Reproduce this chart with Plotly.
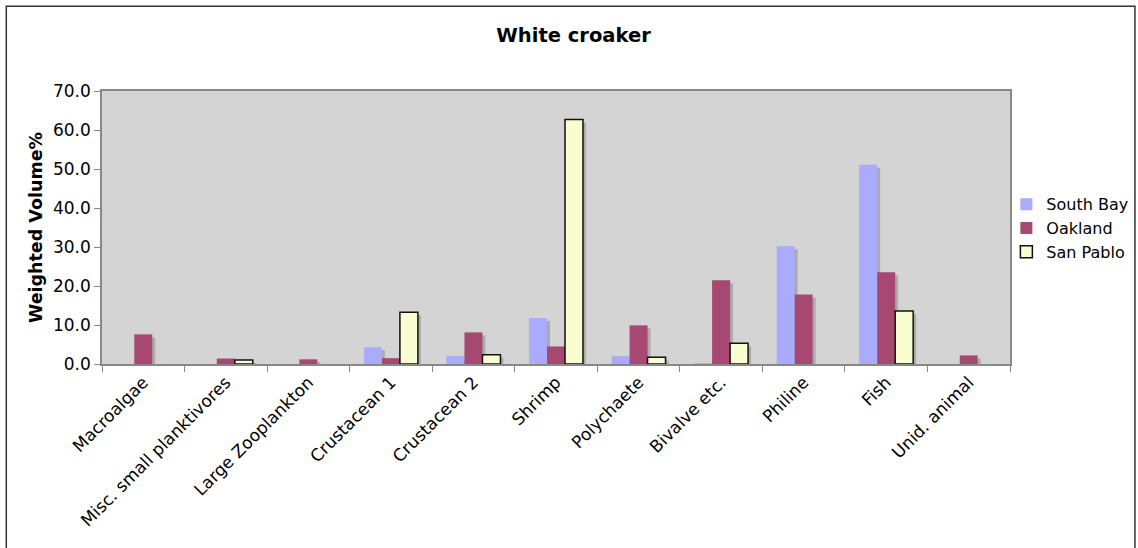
import plotly.graph_objects as go

categories = ["Macroalgae", "Misc. small planktivores", "Large Zooplankton",
              "Crustacean 1", "Crustacean 2", "Shrimp", "Polychaete",
              "Bivalve etc.", "Philine", "Fish", "Unid. animal"]
south_bay = [0, 0, 0, 4.3, 2.1, 11.8, 2.0, 0.1, 30.2, 51.1, 0]
oakland = [7.6, 1.4, 1.2, 1.5, 8.1, 4.5, 9.9, 21.5, 17.8, 23.5, 2.2]
san_pablo = [0, 1.0, 0, 13.3, 2.4, 62.7, 1.7, 5.3, 0, 13.6, 0]
y_ticks = [0, 10, 20, 30, 40, 50, 60, 70]

series = [
    ("South Bay", south_bay, "#AAAAFF", 0, "#AAAAFF"),
    ("Oakland", oakland, "#A64872", 0, "#A64872"),
    ("San Pablo", san_pablo, "#FAFCD2", 1.5, "#111111"),
]

BAR_W = 0.218
offsets = [-0.327, -0.109, 0.109]
SH_DX = 0.036   # shadow shift (category units)
SH_DY = 0.77    # shadow drop (value units)

fig = go.Figure()
for (name, vals, color, lw, lc), off in zip(series, offsets):
    shown = [v if v > 0 else None for v in vals]
    shadow = [(v - SH_DY) if v > SH_DY else None for v in vals]
    fig.add_trace(go.Bar(
        x=categories, y=shadow, width=BAR_W, offset=off + SH_DX,
        marker=dict(color="#ABABAB", line=dict(width=0)),
        showlegend=False, hoverinfo="skip"))
    fig.add_trace(go.Bar(
        x=categories, y=shown, name=name, width=BAR_W, offset=off,
        marker=dict(color=color, line=dict(width=lw, color=lc))))

fig.update_layout(
    width=1138, height=548,
    barmode="overlay",
    paper_bgcolor="white",
    plot_bgcolor="#D4D4D4",
    margin=dict(l=102, r=128, t=91, b=184, autoexpand=False),
    font=dict(family="DejaVu Sans, Verdana, sans-serif", size=16, color="black"),
    title=dict(text="<b>White croaker</b>", x=0.504, xref="container",
               y=0.936, yref="container", xanchor="center", yanchor="middle",
               font=dict(size=19.5, color="black")),
    legend=dict(x=0.996, y=0.497, xanchor="left", yanchor="middle",
                font=dict(size=16), bgcolor="rgba(0,0,0,0)",
                tracegroupgap=0, itemwidth=30),
    showlegend=True,
)
fig.update_xaxes(
    type="category", tickangle=-45, tickson="boundaries",
    ticks="outside", ticklen=6, tickcolor="#888888",
    showline=True, linecolor="#888888", linewidth=1.5, mirror=True,
    showgrid=False, tickfont=dict(size=17),
)
fig.update_yaxes(
    range=[0, 70], tickvals=y_ticks, tickformat=".1f",
    ticks="outside", ticklen=6, tickcolor="#888888",
    showline=True, linecolor="#888888", linewidth=1.5, mirror=True,
    showgrid=False, zeroline=False, tickfont=dict(size=17),
    title=dict(text="<b>Weighted Volume%</b>", font=dict(size=17.5), standoff=6),
)
# outer chart frame
fig.add_shape(type="rect", xref="paper", yref="paper",
              x0=-0.1054, x1=1.1376, y0=-0.75, y1=1.310,
              line=dict(color="#333333", width=1.5), fillcolor="rgba(0,0,0,0)",
              layer="above")

fig.write_html("out.html")
